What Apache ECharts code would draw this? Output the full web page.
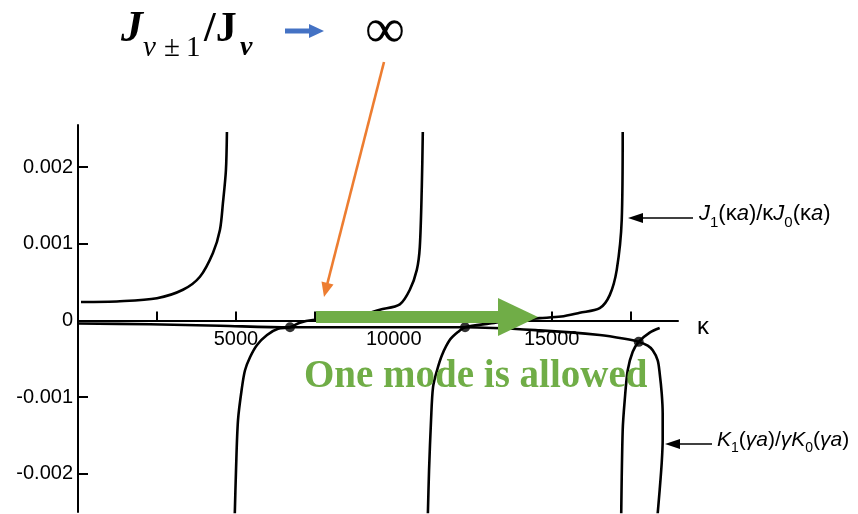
<!DOCTYPE html>
<html>
<head>
<meta charset="utf-8">
<script src="https://cdn.jsdelivr.net/npm/echarts@6/dist/echarts.min.js"></script>
<style>
html, body { margin: 0; padding: 0; background: #fff; }
#chart { width: 858px; height: 514px; }
</style>
</head>
<body>
<div id="chart"></div>
<script>
// values (kappa on x, ratio on y)
var jBranch1Kappa = [95, 1329, 2500, 3323, 3861, 4273, 4494, 4589, 4684, 4716];
var jBranch1Val = [0.00024, 0.00025, 0.00029, 0.0004, 0.00057, 0.00088, 0.00118, 0.00153, 0.00196, 0.00246];

var jBranch2Kappa = [4960, 5004, 5067, 5194, 5289, 5447, 5669, 5986, 6334, 6714, 7026, 7438, 8292, 9000, 9558, 10191, 10508, 10729, 10824, 10887, 10919];
var jBranch2Val = [-0.0026, -0.00195, -0.0013, -0.00087, -0.00065, -0.00048, -0.00032, -0.00019, -0.00011, -0.00009, -0.00003, 0.000005, 0.00003, 0.00007, 0.00014, 0.00021, 0.0004, 0.00066, 0.00096, 0.00174, 0.00246];

var jBranch3Kappa = [11075, 11117, 11180, 11243, 11370, 11528, 11782, 12035, 12257, 13040, 13831, 14622, 15300, 15888, 16521, 16838, 17060, 17218, 17249];
var jBranch3Val = [-0.0026, -0.00195, -0.0013, -0.00087, -0.00065, -0.00045, -0.00025, -0.00015, -0.00009, -0.00004, 0.000005, 0.00003, 0.00005, 0.0001, 0.00016, 0.00033, 0.00066, 0.00131, 0.00246];

var jBranch4Kappa = [17200, 17249, 17313, 17408, 17566, 17756, 18104, 18420];
var jBranch4Val = [-0.0026, -0.00143, -0.00104, -0.00065, -0.00041, -0.00028, -0.00016, -0.0001];

var kCurveKappa = [0, 2279, 4500, 6714, 9558, 12257, 14622, 16521, 17313, 17756, 18041, 18199, 18357, 18420, 18484, 18515, 18515, 18484, 18420, 18340];
var kCurveVal = [-0.00004, -0.00005, -0.00007, -0.00009, -0.00009, -0.00009, -0.00013, -0.00019, -0.00024, -0.00028, -0.00033, -0.00039, -0.00052, -0.00069, -0.00095, -0.00121, -0.00156, -0.00186, -0.00221, -0.0026];

// mode solutions (crossings)
var crossKappa = [6714, 12257, 17756];
var crossVal = [-0.00009, -0.00009, -0.00028];

var yTicks = [-0.002, -0.001, 0, 0.001, 0.002];
var xTicks = [2500, 5000, 7500, 10000, 12500, 15000, 17500];
var xLabels = [5000, 10000, 15000];

var yMin = -0.0025, yMax = 0.00255;
var gridTop = 125, gridBottom = 2, chartH = 514;

function pairs(xs, ys) {
    return xs.map(function (x, i) { return [x, ys[i]]; });
}

function curve(name, xs, ys) {
    return {
        name: name,
        type: 'line',
        data: pairs(xs, ys),
        showSymbol: false,
        smooth: 0.3,
        lineStyle: { color: '#000', width: 2.6 },
        silent: true,
        z: 3
    };
}

// the kappa axis sits at y = 0, moved up from the bottom of the grid
var gridH = chartH - gridTop - gridBottom;
var zeroFromBottom = gridH * (0 - yMin) / (yMax - yMin);

var dom = document.getElementById('chart');
var myChart = echarts.init(dom, null, { renderer: 'canvas' });

var sansFont = '"Liberation Sans", Arial, sans-serif';
var serifFont = '"Liberation Serif", "Times New Roman", serif';

var option = {
    animation: false,
    backgroundColor: '#fff',
    grid: { left: 78, right: 180, top: gridTop, bottom: gridBottom, outerBoundsMode: 'none' },
    xAxis: {
        type: 'value',
        min: 0,
        max: 19000,
        position: 'bottom',
        offset: -zeroFromBottom,
        axisLine: { show: true, onZero: false, lineStyle: { color: '#000', width: 2 } },
        axisTick: { show: true, inside: true, length: 9, customValues: xTicks, lineStyle: { color: '#000', width: 2 } },
        axisLabel: {
            customValues: xLabels, color: '#000', fontSize: 20, fontFamily: sansFont, margin: 9,
            formatter: function (v) { return String(v); }
        },
        splitLine: { show: false }
    },
    yAxis: {
        type: 'value',
        min: yMin,
        max: yMax,
        axisLine: { show: true, onZero: false, lineStyle: { color: '#000', width: 2 } },
        axisTick: { show: true, inside: true, length: 10, customValues: yTicks, lineStyle: { color: '#000', width: 2 } },
        axisLabel: {
            customValues: yTicks,
            color: '#000',
            fontSize: 20,
            fontFamily: sansFont,
            margin: 5,
            formatter: function (v) { return v === 0 ? '0' : v.toFixed(3); }
        },
        splitLine: { show: false }
    },
    series: [
        curve('J branch 1', jBranch1Kappa, jBranch1Val),
        curve('J branch 2', jBranch2Kappa, jBranch2Val),
        curve('J branch 3', jBranch3Kappa, jBranch3Val),
        curve('J branch 4', jBranch4Kappa, jBranch4Val),
        curve('K curve', kCurveKappa, kCurveVal),
        {
            name: 'modes',
            type: 'scatter',
            data: pairs(crossKappa, crossVal),
            symbolSize: 10,
            itemStyle: { color: '#000' },
            z: 4
        }
    ],
    graphic: [
        // heading  J_{v±1}/J_v -> ∞
        { type: 'text', left: 121, top: 8, style: { text: 'J', font: 'italic bold 44px ' + serifFont, fill: '#000' } },
        { type: 'text', left: 143, top: 34, style: { text: 'ν', font: 'italic 29px ' + serifFont, fill: '#000' } },
        { type: 'text', left: 164, top: 34, style: { text: '±', font: '29px ' + serifFont, fill: '#000' } },
        { type: 'text', left: 186, top: 34, style: { text: '1', font: '29px ' + serifFont, fill: '#000' } },
        { type: 'text', left: 204, top: 9, style: { text: '/J', font: 'bold 42px ' + serifFont, fill: '#000' } },
        { type: 'text', left: 240, top: 34, style: { text: 'ν', font: 'italic bold 28px ' + serifFont, fill: '#000' } },
        { type: 'line', shape: { x1: 285, y1: 31, x2: 311, y2: 31 }, style: { stroke: '#4472C4', lineWidth: 5 } },
        { type: 'polygon', shape: { points: [[309, 24], [324, 31], [309, 38]] }, style: { fill: '#4472C4' } },
        { type: 'text', left: 365, top: 4, style: { text: '∞', font: '56px ' + serifFont, fill: '#000' } },

        // orange pointer
        { type: 'line', z: 100, shape: { x1: 384, y1: 62, x2: 327, y2: 285 }, style: { stroke: '#ED7D31', lineWidth: 2.6 } },
        { type: 'polygon', z: 100, shape: { points: [[333.5, 284.5], [324, 297], [321.5, 281.5]] }, style: { fill: '#ED7D31' } },

        // green arrow, drawn over the curves
        { type: 'rect', z: 100, shape: { x: 316, y: 311, width: 184, height: 12 }, style: { fill: '#70AD47' } },
        { type: 'polygon', z: 100, shape: { points: [[498, 298], [538, 317], [498, 336]] }, style: { fill: '#70AD47' } },
        {
            type: 'text', z: 100, left: 304, top: 357,
            style: { text: 'One mode is allowed', font: 'bold 39px ' + serifFont, fill: '#70AD47' }
        },

        // axis name
        { type: 'text', left: 697, top: 315, style: { text: 'κ', font: '24px ' + sansFont, fill: '#000' } },

        // curve labels
        { type: 'line', shape: { x1: 640, y1: 218, x2: 693, y2: 218 }, style: { stroke: '#000', lineWidth: 1.5 } },
        { type: 'polygon', shape: { points: [[628, 218], [643, 213], [643, 223]] }, style: { fill: '#000' } },
        {
            type: 'text', left: 699, top: 203,
            style: {
                text: '{i|J}{s|1}{n|(κ}{i|a}{n|)/κ}{i|J}{s|0}{n|(κ}{i|a}{n|)}',
                rich: {
                    n: { font: '22px ' + sansFont, fill: '#000', verticalAlign: 'top', lineHeight: 25 },
                    i: { font: 'italic 22px ' + sansFont, fill: '#000', verticalAlign: 'top', lineHeight: 25 },
                    s: { font: '15px ' + sansFont, fill: '#000', verticalAlign: 'top', lineHeight: 16, padding: [12, 0, 0, 0] }
                }
            }
        },
        { type: 'line', shape: { x1: 677, y1: 444, x2: 712, y2: 444 }, style: { stroke: '#000', lineWidth: 1.5 } },
        { type: 'polygon', shape: { points: [[665, 444], [680, 439], [680, 449]] }, style: { fill: '#000' } },
        {
            type: 'text', left: 717, top: 430,
            style: {
                text: '{i|K}{s|1}{n|(}{i|γa}{n|)/}{i|γK}{s|0}{n|(}{i|γa}{n|)}',
                rich: {
                    n: { font: '21px ' + sansFont, fill: '#000', verticalAlign: 'top', lineHeight: 24 },
                    i: { font: 'italic 21px ' + sansFont, fill: '#000', verticalAlign: 'top', lineHeight: 24 },
                    s: { font: '14px ' + sansFont, fill: '#000', verticalAlign: 'top', lineHeight: 16, padding: [11, 0, 0, 0] }
                }
            }
        }
    ]
};

if (option && typeof option === 'object') {
    myChart.setOption(option);
}
</script>
</body>
</html>
